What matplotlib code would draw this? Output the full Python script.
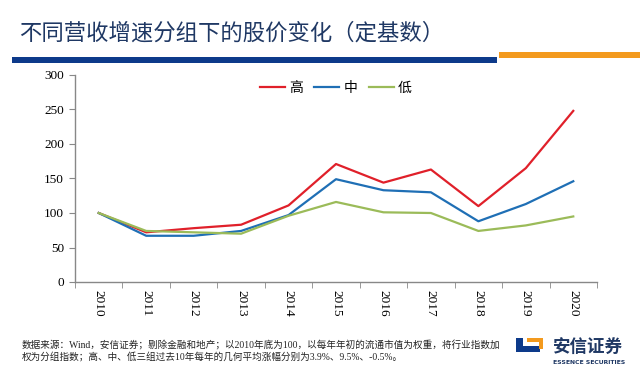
import matplotlib
matplotlib.use('Agg')
from matplotlib import pyplot as plt
from matplotlib.patches import Rectangle

# Datos (base 2010 = 100)
years = ['2010', '2011', '2012', '2013', '2014', '2015',
         '2016', '2017', '2018', '2019', '2020']
high = [100, 72, 78, 83, 111, 171, 144, 163, 110, 165, 248]
mid = [100, 67, 67, 74, 97, 149, 133, 130, 88, 113, 146]
low = [100, 74, 72, 70, 96, 116, 101, 100, 74, 82, 95]
labels = ['高', '中', '低']

title = '不同营收增速分组下的股价变化（定基数）'
note = ('数据来源：Wind，安信证券；剔除金融和地产；以2010年底为100，以每年年初的流通市值为权重，将行业指数加\n'
        '权为分组指数；高、中、低三组过去10年每年的几何平均涨幅分别为3.9%、9.5%、-0.5%。')

cjk = ['Noto Sans CJK SC', 'DejaVu Sans']
serif_cjk = ['Liberation Serif', 'Noto Sans CJK SC']

W, H = 640, 373
fig = plt.figure(figsize=(W / 100, H / 100), dpi=100)

# Capa de fondo en píxeles para título, barras y logo
bg = fig.add_axes([0, 0, 1, 1])
bg.set_xlim(0, W)
bg.set_ylim(H, 0)
bg.axis('off')

bg.text(19, 33, title, fontsize=16.1, color='#1f3864', family=cjk,
        va='center', ha='left')
bg.add_patch(Rectangle((12, 57), 485, 6, color='#0d3a8a', lw=0))
bg.add_patch(Rectangle((499, 52), 141, 6, color='#f39a1e', lw=0))

bg.text(22, 351, note, fontsize=6.9, family=serif_cjk, color='#222222',
        va='center', ha='left', linespacing=1.15)

# Logo
bg.add_patch(Rectangle((516, 338), 7, 14, color='#0d3a8a', lw=0))
bg.add_patch(Rectangle((516, 346), 24, 6, color='#0d3a8a', lw=0))
bg.add_patch(Rectangle((527, 338), 16, 4, color='#f39a1e', lw=0))
bg.add_patch(Rectangle((539, 338), 4, 11, color='#f39a1e', lw=0))
bg.text(553, 347, '安信证券', fontsize=12.6, family=cjk, color='#1f3864',
        weight='bold', va='center', ha='left')
bg.text(553, 362, 'ESSENCE SECURITIES', fontsize=4.4, family=['DejaVu Sans'],
        color='#1f3864', weight='bold', va='center', ha='left')

# Gráfico principal
ax = fig.add_axes([75 / W, (H - 282) / H, (597 - 75) / W, (282 - 75) / H])
x = list(range(len(years)))
ax.plot(x, high, color='#e0202a', lw=1.6, label=labels[0])
ax.plot(x, mid, color='#1f6fb5', lw=1.6, label=labels[1])
ax.plot(x, low, color='#9bbb59', lw=1.6, label=labels[2])

ax.set_xlim(-0.5, len(years) - 0.5)
ax.set_ylim(0, 300)
ax.set_yticks(range(0, 301, 50))
ax.set_xticks(x)
ax.set_xticklabels(years, rotation=-90, family='Liberation Serif', fontsize=9.5)
ax.set_xticks([i - 0.5 for i in range(len(years) + 1)], minor=True)
ax.tick_params(axis='x', which='major', length=0, pad=6)
ax.tick_params(axis='x', which='minor', length=4, color='#888888', direction='out')
ax.tick_params(axis='y', length=4, color='#888888', direction='out', pad=4)
for t in ax.get_yticklabels():
    t.set_family('Liberation Serif')
    t.set_fontsize(9.5)

for s in ['top', 'right']:
    ax.spines[s].set_visible(False)
for s in ['left', 'bottom']:
    ax.spines[s].set_color('#888888')
    ax.spines[s].set_linewidth(1)
ax.patch.set_alpha(0)

leg = ax.legend(loc='upper center', bbox_to_anchor=(0.5, 1.03), ncol=3,
                frameon=False, prop={'family': cjk, 'size': 10},
                handlelength=1.8, handletextpad=0.3, columnspacing=0.8)

fig.savefig('out.png', dpi=100)
